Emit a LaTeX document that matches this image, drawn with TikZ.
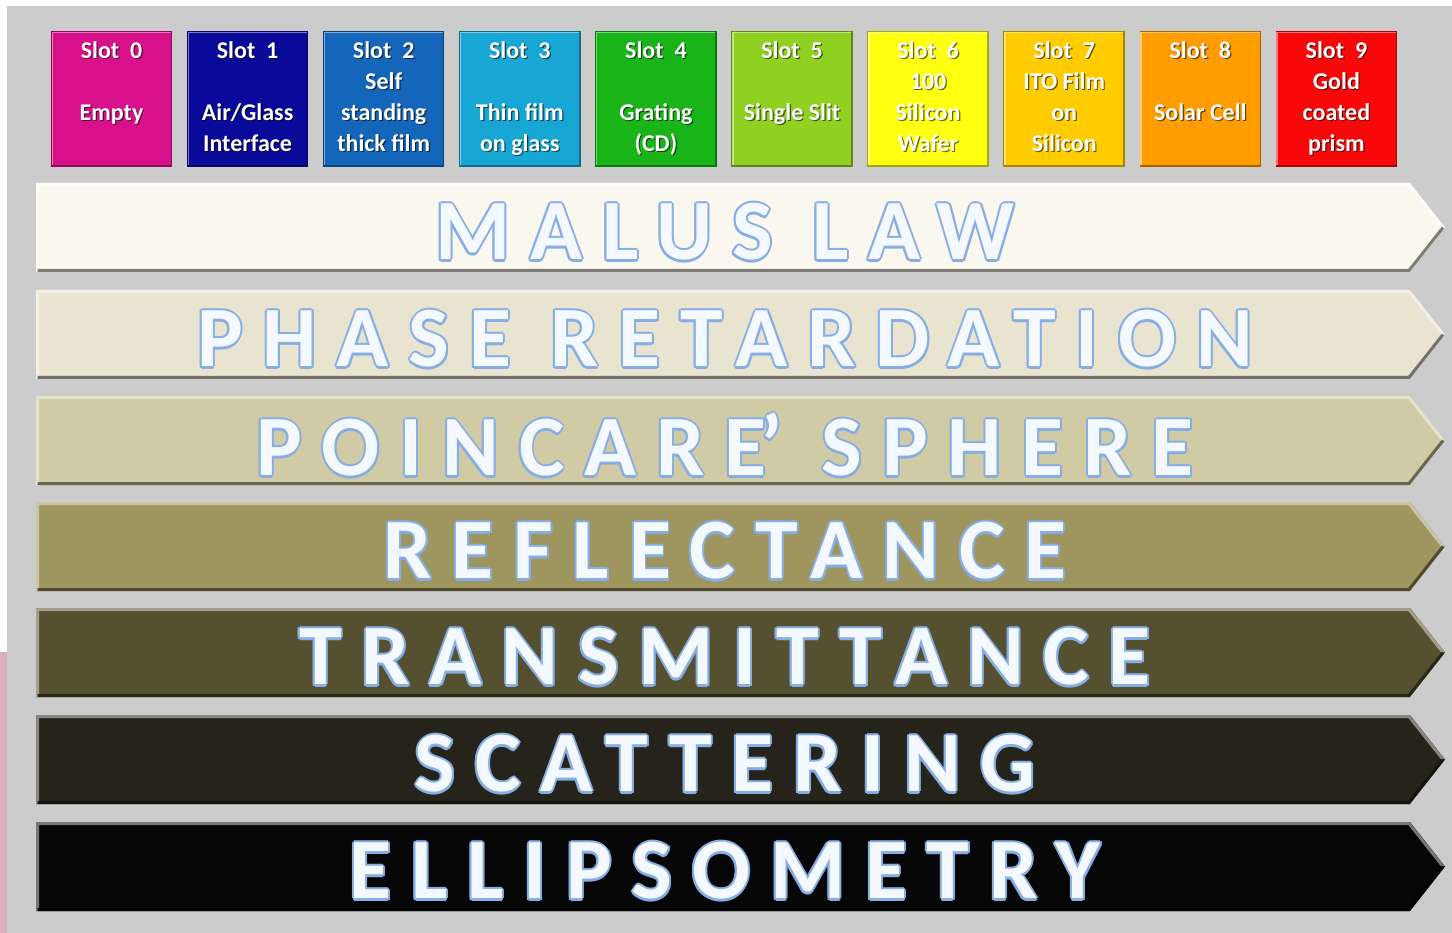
\documentclass[tikz,border=0pt]{standalone}
\usepackage{fontspec}
\setmainfont{Carlito}
\newfontfamily\bandfont[LetterSpace=23]{Carlito}
\usetikzlibrary{positioning}

\definecolor{canvas}{HTML}{CCCCCC}
\definecolor{pinkstrip}{HTML}{D8B0BE}
\definecolor{slotA}{HTML}{D8108C}
\definecolor{slotB}{HTML}{0A0A9A}
\definecolor{slotC}{HTML}{1466BA}
\definecolor{slotD}{HTML}{18A6D4}
\definecolor{slotE}{HTML}{18B418}
\definecolor{slotF}{HTML}{90D020}
\definecolor{slotG}{HTML}{FFFF10}
\definecolor{slotH}{HTML}{FFCC00}
\definecolor{slotI}{HTML}{FF9C00}
\definecolor{slotJ}{HTML}{F80808}
\definecolor{bandA}{HTML}{FAF8EE}
\definecolor{bandB}{HTML}{E8E4D0}
\definecolor{bandC}{HTML}{D0CBA5}
\definecolor{bandD}{HTML}{9E955F}
\definecolor{bandE}{HTML}{555030}
\definecolor{bandF}{HTML}{25231A}
\definecolor{bandG}{HTML}{060606}
\definecolor{glowblue}{HTML}{86AEE4}
\definecolor{glowwhite}{HTML}{F4F8FF}

% blue rim round the big band words
\newcommand\glowtxt[1]{\setbox0\hbox{#1}%
  \rlap{\color{glowblue}\kern-2pt\copy0}%
  \rlap{\color{glowblue}\kern2pt\copy0}%
  \rlap{\color{glowblue}\raise1.8pt\copy0}%
  \rlap{\color{glowblue}\lower2.6pt\copy0}%
  \rlap{\color{glowblue}\kern-1.4pt\raise1.3pt\copy0}%
  \rlap{\color{glowblue}\kern1.4pt\raise1.3pt\copy0}%
  \rlap{\color{glowblue}\kern-1.5pt\lower2.1pt\copy0}%
  \rlap{\color{glowblue}\kern1.5pt\lower2.1pt\copy0}%
  \box0}

\begin{document}
\begin{tikzpicture}[x=1pt, y=-1pt,
  slot/.style={draw=#1!65!black, fill=#1, line width=1.5pt,
               minimum width=120pt, minimum height=134.5pt, inner sep=0pt},
  slottxt/.style={font=\bfseries\fontsize{24}{31}\selectfont, align=center,
                  text=white, inner sep=0pt, anchor=north},
  bandtxt/.style={font=\bandfont\bfseries\fontsize{86}{90}\selectfont,
                  text=glowwhite, inner sep=0pt},
]
\useasboundingbox (0,0) rectangle (1452,933);
\fill[white] (0,0) rectangle (1452,933);
\fill[canvas] (7,6) rectangle (1452,933);
\fill[pinkstrip] (0,652) rectangle (7,933);

% sample slots
\foreach \i/\col/\txt in {
    0/slotA/{Slot~~0\\\strut\\Empty},
    1/slotB/{Slot~~1\\\strut\\Air/Glass\\Interface},
    2/slotC/{Slot~~2\\Self\\standing\\thick film},
    3/slotD/{Slot~~3\\\strut\\Thin film\\on glass},
    4/slotE/{Slot~~4\\\strut\\Grating\\(CD)},
    5/slotF/{Slot~~5\\\strut\\Single Slit},
    6/slotG/{Slot~~6\\100\\Silicon\\Wafer},
    7/slotH/{Slot~~7\\ITO Film\\on\\Silicon},
    8/slotI/{Slot~~8\\\strut\\Solar Cell},
    9/slotJ/{Slot~~9\\Gold\\coated\\prism}}{
  \node[slot=\col] (s\i) at (111.5+136.1*\i,99) {};
  \draw[\col!55!white, line width=1.5pt] ([shift={(1.5pt,1.5pt)}]s\i.south west)
      -- ([shift={(1.5pt,-1.5pt)}]s\i.north west)
      -- ([shift={(-1.5pt,-1.5pt)}]s\i.north east);
  \node[slottxt, text=\col!40!black] at ([xshift=1.2pt,yshift=-6.6pt]s\i.north) {\strut\txt};
  \node[slottxt] (l\i) at ([yshift=-5.4pt]s\i.north) {\strut\txt};
}

% measurement bands
\foreach \y/\col/\nm/\txt in {
    183/bandA/malus/MALUS LAW,
    290/bandB/phase/PHASE RETARDATION,
    396/bandC/poinc/POINCARE\kern-6pt’ SPHERE,
    502/bandD/refl/REFLECTANCE,
    608/bandE/trans/TRANSMITTANCE,
    715/bandF/scatt/SCATTERING,
    822/bandG/ellip/ELLIPSOMETRY}{
  \fill[\col] (36,\y) -- (1410,\y) -- (1445,\y+44.5) -- (1410,\y+89)
      -- (36,\y+89) -- cycle;
  \draw[\col!55!white, line width=3pt] (37.5,\y+89) -- (37.5,\y+1.5)
      -- (1409,\y+1.5) -- (1443,\y+44.5);
  \draw[\col!50!black, line width=3pt] (37.5,\y+87.5) -- (1409,\y+87.5)
      -- (1443,\y+44.5);
  \node[bandtxt] (\nm) at (725,\y+49) {\glowtxt{\txt}};
}
\end{tikzpicture}
\end{document}
